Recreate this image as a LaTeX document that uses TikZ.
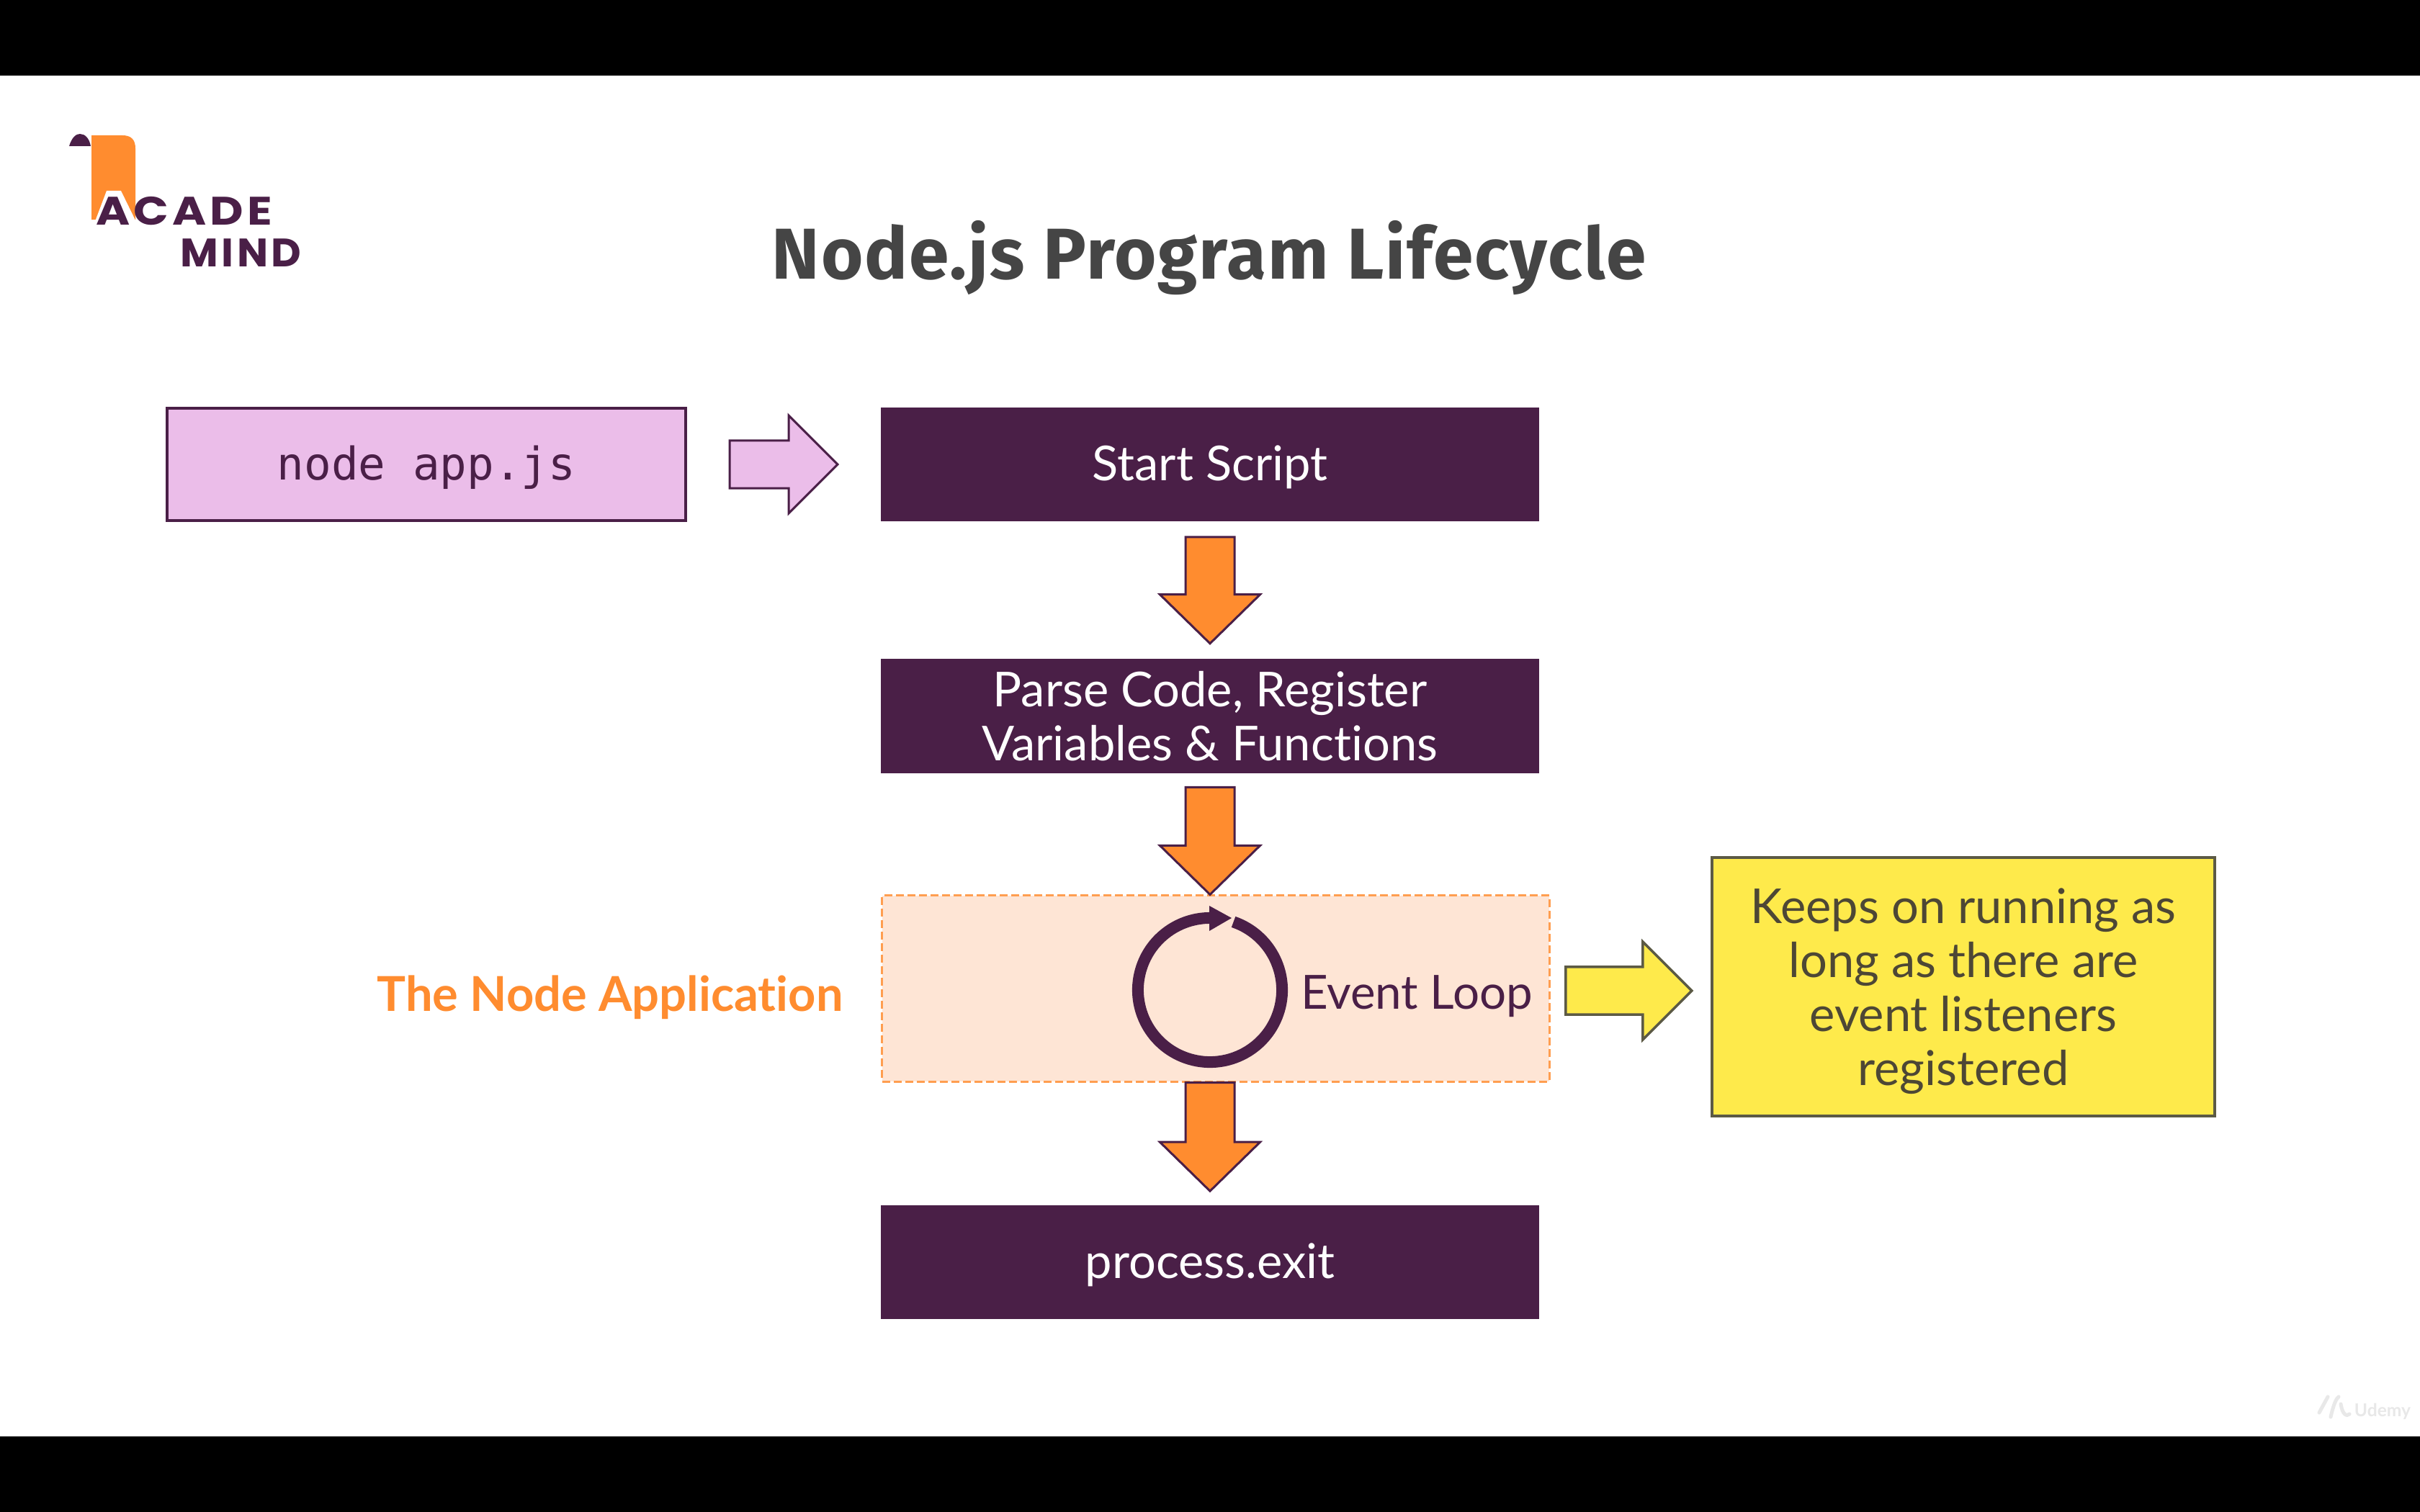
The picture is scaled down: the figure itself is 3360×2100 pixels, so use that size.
\documentclass[tikz,border=0pt]{standalone}
\usepackage{fontspec}
\usetikzlibrary{calc}
\setmainfont{Lato}[Ligatures=NoCommon]
\newfontfamily\titlefont[LetterSpace=1.9]{Fira Sans}
\newfontfamily\logofonta[LetterSpace=9,FakeStretch=1.16]{Poppins}
\newfontfamily\logofontb[LetterSpace=8,FakeStretch=1.04]{Poppins}
\newfontfamily\codefont{DejaVu Sans Mono}
\definecolor{plum}{HTML}{4A1F47}
\definecolor{amber}{HTML}{FF8C2F}
\definecolor{lilac}{HTML}{EBBDE9}
\definecolor{peach}{HTML}{FEE5D5}
\definecolor{lemon}{HTML}{FEEA4B}
\definecolor{olive}{HTML}{5C5A45}
\definecolor{olivetext}{HTML}{4D4735}
\definecolor{slate}{HTML}{454545}
\tikzset{
  x=0.01cm,y=-0.01cm,
  darkbox/.style={draw=none,fill=plum,text=white,inner sep=0pt,minimum width=9.14cm,minimum height=1.58cm,align=center,font=\fontsize{19}{21.4}\selectfont},
  oneline/.style={text height=0.50cm,text depth=0.06cm},
  blockarrow/.style={draw=plum,line width=0.03cm,line join=miter},
  orangearrow/.style={blockarrow,fill=amber},
  lilacarrow/.style={blockarrow,fill=lilac},
  lemonarrow/.style={draw=olive,line width=0.035cm,line join=miter,fill=lemon},
}
\newcommand{\arrowdown}[3]{%
  \draw[#3] let \p1=(#1),\p2=(#2) in
    (\x1-0.34cm,\y1) -- (\x1+0.34cm,\y1) -- (\x1+0.34cm,\y2+0.68cm) -- (\x1+0.695cm,\y2+0.68cm)
    -- (\x2,\y2) -- (\x1-0.695cm,\y2+0.68cm) -- (\x1-0.34cm,\y2+0.68cm) -- cycle;}
\newcommand{\arrowright}[4]{% from, to, style, head length
  \draw[#3] let \p1=(#1),\p2=(#2) in
    (\x1,\y1+0.33cm) -- (\x2-#4,\y1+0.33cm) -- (\x2-#4,\y1+0.68cm) -- (\x2,\y2)
    -- (\x2-#4,\y1-0.68cm) -- (\x2-#4,\y1-0.33cm) -- (\x1,\y1-0.33cm) -- cycle;}
\begin{document}
\begin{tikzpicture}
\useasboundingbox (0,0) rectangle (3360,2100);
\fill[black] (0,0) rectangle (3360,2100);
\fill[white] (0,105) rectangle (3360,1995);

% logo
\fill[amber] (127,188) -- (170,188) .. controls (182,188) and (188,194) .. (188,206) -- (188,305) -- (127,305) -- cycle;
\fill[white] (131,310) -- (148,265) -- (168,265) -- (190,310) -- cycle;
\fill[plum] (96,203) .. controls (100,190) and (106,186) .. (111,186) .. controls (118,186) and (124,192) .. (126,203) -- cycle;
\node[anchor=base west,inner sep=0pt,text=plum] (acade) at (133,312) {\logofonta\bfseries\fontsize{15.7}{18}\selectfont ACADE};
\node[anchor=base west,inner sep=0pt,text=plum] (mind) at (250,370) {\logofontb\bfseries\fontsize{15.7}{18}\selectfont MIND};

\node[text=slate,inner sep=0pt,anchor=base] (title) at (1679,387) {\titlefont\bfseries\fontsize{28.45}{34}\selectfont Node.js Program Lifecycle};

% boxes
\node[draw=plum,line width=0.04cm,fill=lilac,text=plum,inner sep=0pt,minimum width=7.2cm,minimum height=1.56cm,text height=0.50cm,text depth=0.08cm] (app) at (592,645) {\codefont\fontsize{17.8}{20}\selectfont node app.js};
\node[darkbox,oneline] (start) at (1680,645) {Start Script};
\node[darkbox] (parse) at (1680,994.5) {Parse Code, Register\\Variables \& Functions};
\node[draw=amber!80!peach,line width=0.03cm,dash pattern=on 0.11cm off 0.05cm,fill=peach,inner sep=0pt,minimum width=9.26cm,minimum height=2.58cm] (loop) at (1688,1373) {};
\node[darkbox,oneline] (exit) at (1680,1753) {process.exit};
\node[draw=olive,line width=0.04cm,fill=lemon,text=olivetext,inner sep=0pt,minimum width=6.98cm,minimum height=3.58cm,align=center,font=\fontsize{19}{21.4}\selectfont] (note) at (2726,1370.5) {\rule{0pt}{0.61cm}Keeps on running as\\long as there are\\event listeners\\registered};
\node[text=amber,inner sep=0pt,font=\bfseries\fontsize{19}{22}\selectfont] (applabel) at (847,1385) {The Node Application};
\node[text=plum,inner sep=0pt,font=\fontsize{18.6}{22}\selectfont] (looptext) at (1967,1384) {Event Loop};

% event loop ring
\coordinate (ring) at (1680,1375);
\draw[plum,line width=0.16cm] ($(ring)+(71:1cm)$) arc[start angle=71,end angle=-270,radius=1cm];
\fill[plum] (1679,1258) -- (1710,1275) -- (1679,1293) -- cycle;

% connectors
\coordinate (a1s) at ($(start.south)+(0,21)$);
\coordinate (a1e) at ($(parse.north)+(0,-21)$);
\coordinate (a2s) at ($(parse.south)+(0,19)$);
\coordinate (a2e) at (loop.north -| parse.south);
\coordinate (a3s) at (loop.south -| exit.north);
\coordinate (a3e) at ($(exit.north)+(0,-19)$);
\arrowdown{a1s}{a1e}{orangearrow}
\arrowdown{a2s}{a2e}{orangearrow}
\arrowdown{a3s}{a3e}{orangearrow}
\coordinate (p1) at ($(app.east)+(59,0)$);
\coordinate (p2) at ($(start.west)+(-59,0)$);
\coordinate (y1) at ($(loop.east)+(21,3)$);
\coordinate (y2) at ($(note.west)+(-26,5.5)$);
\arrowright{p1}{p2}{lilacarrow}{0.68cm}
\arrowright{y1}{y2}{lemonarrow}{0.68cm}

% watermark
\draw[gray!18,line width=0.05cm,line cap=round] (3220,1962) -- (3232,1940) (3236,1968) .. controls (3240,1950) and (3244,1942) .. (3247,1940) (3250,1950) .. controls (3252,1964) and (3258,1968) .. (3262,1964);
\node[text=gray!18,inner sep=0pt,font=\bfseries\fontsize{7}{8}\selectfont] (wm) at (3308,1960) {Udemy};
\end{tikzpicture}
\end{document}
